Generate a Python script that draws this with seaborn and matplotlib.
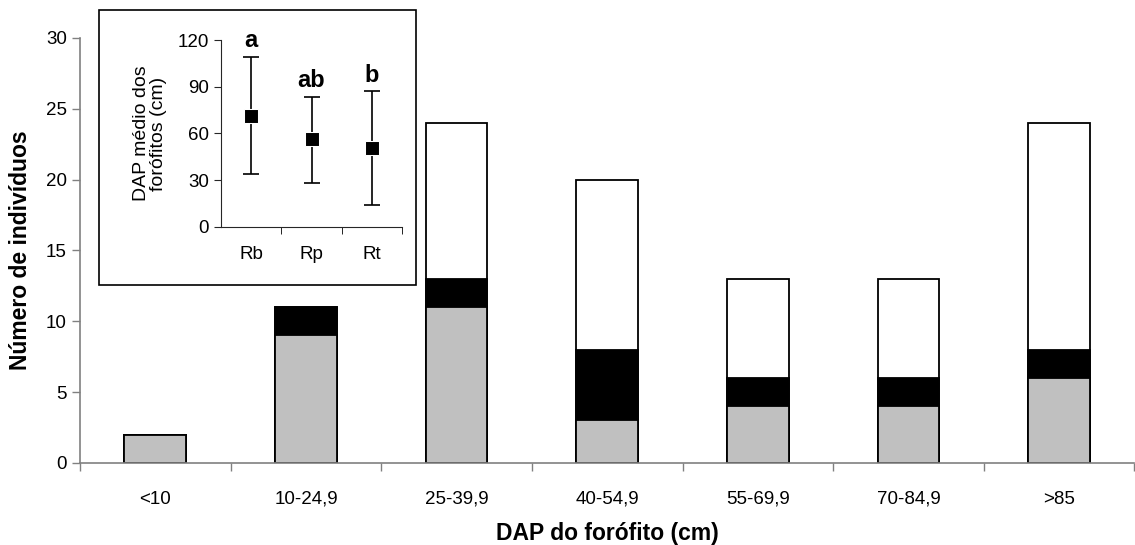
import matplotlib
matplotlib.use("Agg")
import matplotlib.pyplot as plt
import seaborn as sns
import pandas as pd
from matplotlib.patches import Rectangle

# main chart data
classes = ["<10", "10-24,9", "25-39,9", "40-54,9", "55-69,9", "70-84,9", ">85"]
gray_vals = [2, 9, 11, 3, 4, 4, 6]
black_vals = [0, 2, 2, 5, 2, 2, 2]
white_vals = [0, 0, 11, 12, 7, 7, 16]

# inset data
groups = ["Rb", "Rp", "Rt"]
means = [71.5, 56.3, 50.5]
upper = [109.3, 83.6, 87.0]
lower = [33.8, 28.2, 14.1]
letters = ["a", "ab", "b"]

sns.set_style("ticks")
plt.rcParams["font.family"] = ["Liberation Sans", "DejaVu Sans"]
plt.rcParams["text.color"] = "black"
plt.rcParams["xtick.labelcolor"] = "black"
plt.rcParams["ytick.labelcolor"] = "black"
plt.rcParams["axes.labelcolor"] = "black"

df = pd.DataFrame({"classe": classes, "cinza": gray_vals, "preto": black_vals, "branco": white_vals})
df["g_b"] = df["cinza"] + df["preto"]
df["total"] = df["g_b"] + df["branco"]

fig = plt.figure(figsize=(11.35, 5.45), dpi=100)
ax = fig.add_axes([0.0705, 0.1505, 0.929, 0.7798])

# stacked bars drawn by overlapping cumulative totals
sns.barplot(data=df, x="classe", y="total", color="white", edgecolor="black",
            linewidth=1.3, width=0.41, saturation=1, ax=ax)
sns.barplot(data=df, x="classe", y="g_b", color="black", edgecolor="black",
            linewidth=1.3, width=0.41, saturation=1, ax=ax)
sns.barplot(data=df, x="classe", y="cinza", color="#c0c0c0", edgecolor="black",
            linewidth=1.3, width=0.41, saturation=1, ax=ax)

ax.set_xlim(-0.5, len(classes) - 0.5)
ax.set_ylim(0, 30)
ax.set_yticks(range(0, 31, 5))
ax.set_xticks(range(len(classes)))
ax.set_xticklabels(classes, fontsize=13.5)
ax.set_xticks([i + 0.5 for i in range(-1, len(classes))], minor=True)
ax.tick_params(axis="x", which="major", length=0, pad=20)
ax.tick_params(axis="x", which="minor", length=6, color="#808080", width=1)
ax.tick_params(axis="y", length=6, color="#808080", width=1, labelsize=13.5)
for s in ["top", "right"]:
    ax.spines[s].set_visible(False)
for s in ["left", "bottom"]:
    ax.spines[s].set_color("#808080")
    ax.spines[s].set_linewidth(1.2)
ax.set_xlabel("DAP do forófito (cm)", fontsize=16.5, fontweight="bold", labelpad=10)
ax.set_ylabel("Número de indivíduos", fontsize=16.5, fontweight="bold", labelpad=10)

# inset frame
fig.patches.append(Rectangle((0.0872, 0.4771), 0.2793, 0.5046, transform=fig.transFigure,
                             facecolor="white", edgecolor="black", linewidth=1.2, zorder=3))

ins = fig.add_axes([0.1947, 0.5835, 0.1595, 0.3431], zorder=4)
ins.set_facecolor("none")
xs = list(range(len(groups)))
ins.errorbar(xs, means,
             yerr=[[m - l for m, l in zip(means, lower)], [u - m for m, u in zip(means, upper)]],
             fmt="none", ecolor="black", elinewidth=1.2, capsize=6, capthick=1.2)
sns.scatterplot(x=xs, y=means, marker="s", color="black", s=90, ax=ins, zorder=5)
for i, (u, t) in enumerate(zip(upper, letters)):
    ins.text(i, u + 3, t, ha="center", va="bottom", fontsize=17, fontweight="bold")
ins.set_xlim(-0.5, len(groups) - 0.5)
ins.set_ylim(0, 120)
ins.set_yticks(range(0, 121, 30))
ins.set_xticks(xs)
ins.set_xticklabels(groups)
ins.set_xticks([0.5, 1.5, 2.5], minor=True)
ins.tick_params(axis="x", which="major", length=0, pad=14, labelsize=13.5)
ins.tick_params(axis="x", which="minor", length=5, color="black")
ins.tick_params(axis="y", length=5, labelsize=13.5)
for s in ["top", "right"]:
    ins.spines[s].set_visible(False)
ins.set_ylabel("DAP médio dos\nforófitos (cm)", fontsize=14, labelpad=8, linespacing=1.0)

fig.savefig("out.png", dpi=100)
